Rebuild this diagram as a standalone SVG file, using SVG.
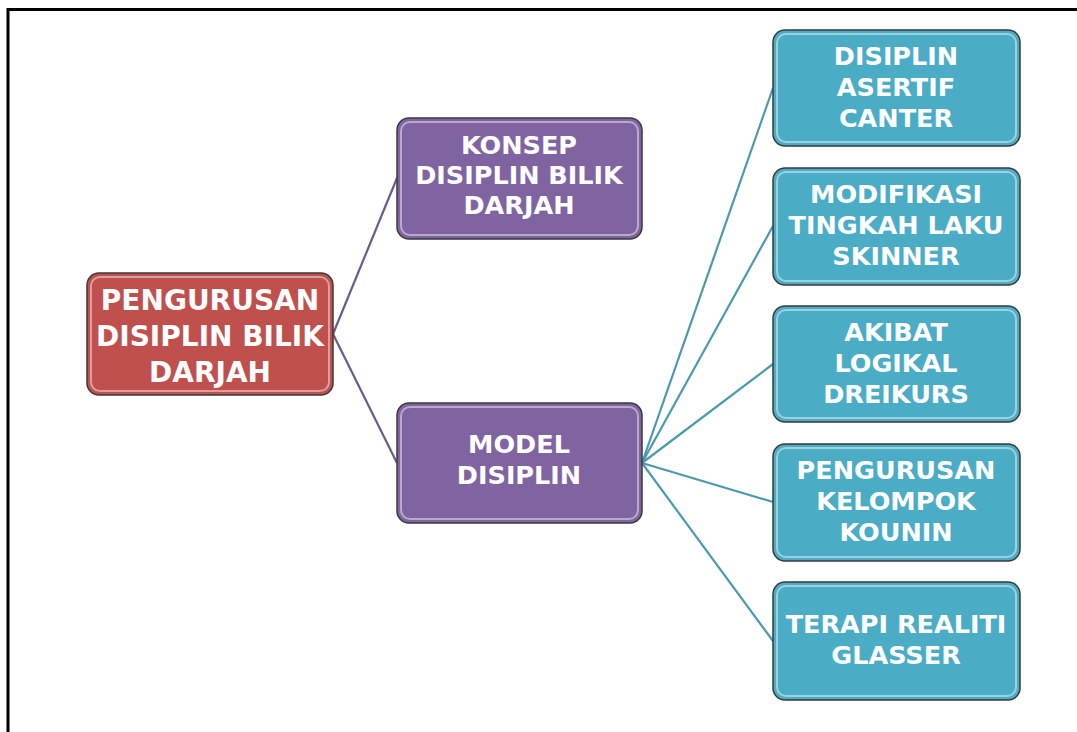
<svg xmlns="http://www.w3.org/2000/svg" width="1077" height="732" viewBox="0 0 1077 732">
<defs>
<style>
.box{stroke:#3a3a3a;stroke-width:1.5}
.red{fill:#c0504d}
.pur{fill:#8064a2}
.teal{fill:#4bacc6}
.hl{fill:none;stroke:#ffffff;stroke-opacity:0.45;stroke-width:2}
.t{font-family:"DejaVu Sans","Liberation Sans",sans-serif;font-weight:bold;font-size:25.5px;fill:#ffffff;text-anchor:middle}
.r{font-size:28px}
.cp{stroke:#6c5a88;stroke-width:2.2;fill:none}
.ct{stroke:#4a9aae;stroke-width:2.2;fill:none}
</style>
</defs>
<rect x="0" y="0" width="1077" height="732" fill="#ffffff"/>
<path d="M8 732 V9.5 H1077" fill="none" stroke="#000000" stroke-width="3"/>
<g id="connectors">
<path class="cp" d="M333 334 L397 178"/>
<path class="cp" d="M333 334 L397 463"/>
<path class="ct" d="M642 463 L773 88"/>
<path class="ct" d="M642 463 L773 226"/>
<path class="ct" d="M642 463 L773 364"/>
<path class="ct" d="M642 463 L773 502"/>
<path class="ct" d="M642 463 L773 641"/>
</g>
<g id="root">
<rect class="box red" x="87" y="273" width="246" height="122" rx="12"/>
<rect class="hl" x="91" y="277" width="238" height="114" rx="9"/>
<text class="t r" x="210" y="310">PENGURUSAN</text>
<text class="t r" x="210" y="346">DISIPLIN BILIK</text>
<text class="t r" x="210" y="382">DARJAH</text>
</g>
<g id="konsep">
<rect class="box pur" x="397" y="118" width="245" height="121" rx="12"/>
<rect class="hl" x="401" y="122" width="237" height="113" rx="9"/>
<text class="t" x="519" y="154">KONSEP</text>
<text class="t" x="519" y="184">DISIPLIN BILIK</text>
<text class="t" x="519" y="214">DARJAH</text>
</g>
<g id="model">
<rect class="box pur" x="397" y="403" width="245" height="120" rx="12"/>
<rect class="hl" x="401" y="407" width="237" height="112" rx="9"/>
<text class="t" x="519" y="453">MODEL</text>
<text class="t" x="519" y="484">DISIPLIN</text>
</g>
<g id="canter">
<rect class="box teal" x="773" y="30" width="247" height="116" rx="12"/>
<rect class="hl" x="777" y="34" width="239" height="108" rx="9"/>
<text class="t" x="896" y="65">DISIPLIN</text>
<text class="t" x="896" y="96">ASERTIF</text>
<text class="t" x="896" y="127">CANTER</text>
</g>
<g id="skinner">
<rect class="box teal" x="773" y="168" width="247" height="117" rx="12"/>
<rect class="hl" x="777" y="172" width="239" height="109" rx="9"/>
<text class="t" x="896" y="203">MODIFIKASI</text>
<text class="t" x="896" y="234">TINGKAH LAKU</text>
<text class="t" x="896" y="265">SKINNER</text>
</g>
<g id="dreikurs">
<rect class="box teal" x="773" y="306" width="247" height="116" rx="12"/>
<rect class="hl" x="777" y="310" width="239" height="108" rx="9"/>
<text class="t" x="896" y="341">AKIBAT</text>
<text class="t" x="896" y="372">LOGIKAL</text>
<text class="t" x="896" y="403">DREIKURS</text>
</g>
<g id="kounin">
<rect class="box teal" x="773" y="444" width="247" height="117" rx="12"/>
<rect class="hl" x="777" y="448" width="239" height="109" rx="9"/>
<text class="t" x="896" y="479">PENGURUSAN</text>
<text class="t" x="896" y="510">KELOMPOK</text>
<text class="t" x="896" y="541">KOUNIN</text>
</g>
<g id="glasser">
<rect class="box teal" x="773" y="582" width="247" height="118" rx="12"/>
<rect class="hl" x="777" y="586" width="239" height="110" rx="9"/>
<text class="t" x="896" y="633">TERAPI REALITI</text>
<text class="t" x="896" y="664">GLASSER</text>
</g>
</svg>
